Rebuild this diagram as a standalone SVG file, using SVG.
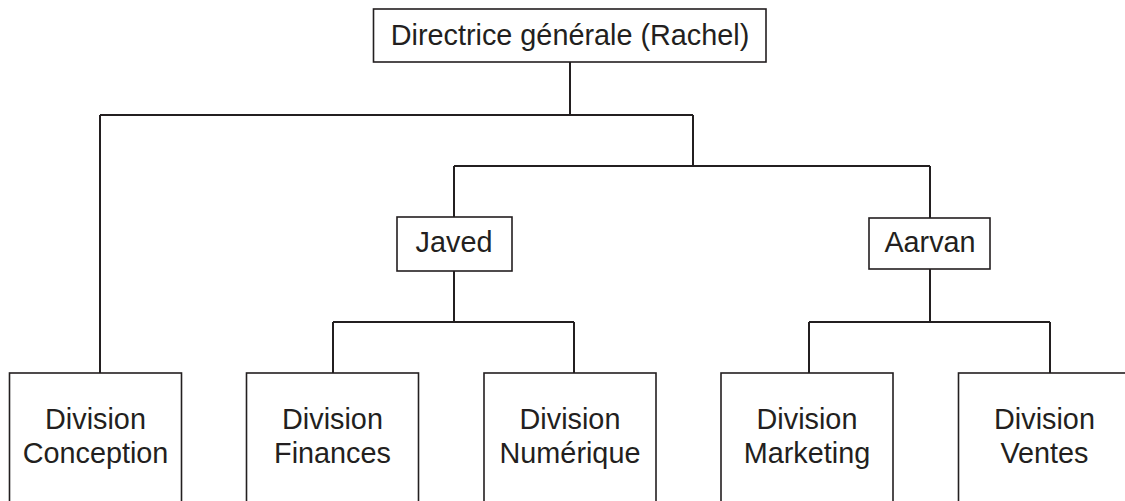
<svg xmlns="http://www.w3.org/2000/svg" width="1125" height="501" viewBox="0 0 1125 501">
<style>
.box{fill:#fff;stroke:#231f20;stroke-width:1.6}
.lbl{font-family:"Liberation Sans",Arial,sans-serif;font-size:28.8px;fill:#231f20;text-anchor:middle}
.con{fill:none;stroke:#231f20;stroke-width:2}
</style>
<rect width="1125" height="501" fill="#fff"/>
<g id="connectors">
<path class="con" d="M570,62V115M100,115H693M100,115V373M693,115V166M454,166H930M454,166V217M930,166V218"/>
<path class="con" d="M454,271V322M333,322H574M333,322V373M574,322V373"/>
<path class="con" d="M930,269V322M809,322H1050M809,322V373M1050,322V373"/>
</g>
<g id="ceo"><rect class="box" x="373.5" y="9" width="392.5" height="53"/><text class="lbl" x="570" y="45">Directrice générale (Rachel)</text></g>
<g id="javed"><rect class="box" x="397" y="217" width="115" height="54"/><text class="lbl" x="454" y="252">Javed</text></g>
<g id="aarvan"><rect class="box" x="869" y="218" width="121" height="51"/><text class="lbl" x="930" y="252">Aarvan</text></g>
<g id="conception"><rect class="box" x="9.5" y="373" width="172" height="150"/><text class="lbl" x="95.5" y="429">Division</text><text class="lbl" x="95.5" y="463">Conception</text></g>
<g id="finances"><rect class="box" x="246.5" y="373" width="172" height="150"/><text class="lbl" x="332.5" y="429">Division</text><text class="lbl" x="332.5" y="463">Finances</text></g>
<g id="numerique"><rect class="box" x="484" y="373" width="172" height="150"/><text class="lbl" x="570" y="429">Division</text><text class="lbl" x="570" y="463">Numérique</text></g>
<g id="marketing"><rect class="box" x="721" y="373" width="172" height="150"/><text class="lbl" x="807" y="429">Division</text><text class="lbl" x="807" y="463">Marketing</text></g>
<g id="ventes"><rect class="box" x="958.5" y="373" width="172" height="150"/><text class="lbl" x="1044.5" y="429">Division</text><text class="lbl" x="1044.5" y="463">Ventes</text></g>
</svg>
